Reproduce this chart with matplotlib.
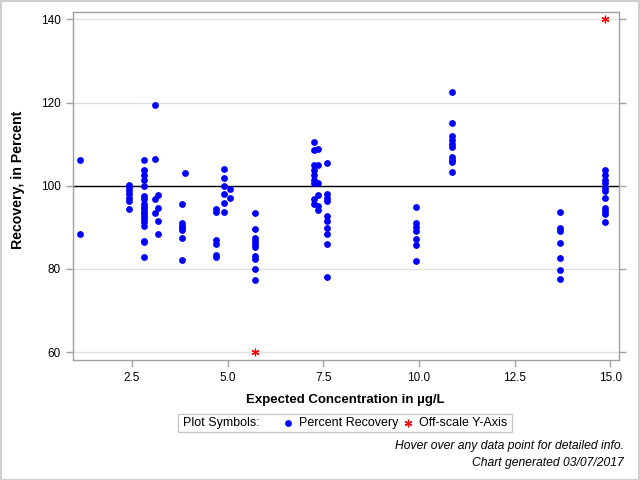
import matplotlib
matplotlib.use("Agg")
import matplotlib.pyplot as plt
from matplotlib.patches import Rectangle
from matplotlib.lines import Line2D

plt.rcParams['font.family'] = ['Liberation Sans', 'DejaVu Sans']

# Expected concentrations (µg/L) and the recoveries measured at each
concentrations = [1.15, 2.43, 2.80, 3.11, 3.19, 3.89, 3.80, 4.70, 4.91, 5.06,
                  5.72, 7.26, 7.37, 7.59, 9.91, 10.87, 13.67, 14.85]
recoveries = [
    [106.3, 88.5],
    [100.3, 99.5, 98.7, 97.9, 97.1, 96.3, 94.5],
    [106.3, 103.8, 102.7, 101.5, 99.9, 97.5, 96.7, 95.5, 94.9, 94.3, 93.6,
     93.1, 92.5, 91.9, 91.2, 90.3, 86.7, 86.4, 82.9],
    [119.3, 106.5, 96.7, 93.5],
    [97.8, 94.7, 91.6, 88.3],
    [103.0],
    [95.5, 91.1, 90.4, 89.9, 89.3, 87.5, 82.2],
    [94.5, 93.7, 86.9, 86.1, 83.3, 82.9],
    [104.1, 101.9, 99.9, 97.9, 95.9, 93.7],
    [99.1, 97.1],
    [93.5, 89.6, 87.5, 86.7, 85.9, 85.3, 83.2, 82.5, 80.1, 77.3],
    [110.6, 108.7, 105.1, 103.9, 102.7, 101.5, 100.6, 96.7, 95.5],
    [108.9, 104.9, 100.7, 97.7, 95.1, 94.1],
    [105.5, 98.1, 97.1, 96.3, 92.8, 91.5, 89.9, 88.5, 86.0, 78.1],
    [94.9, 91.1, 90.1, 89.1, 87.1, 85.7, 81.9],
    [122.6, 115.2, 112.0, 111.0, 110.0, 109.2, 107.0, 106.3, 105.7, 103.4],
    [93.7, 89.9, 89.1, 86.3, 82.7, 79.8, 77.6],
    [103.9, 102.5, 101.5, 100.6, 99.5, 98.7, 97.1, 94.7, 93.9, 93.1, 91.2],
]
offscale_x = [5.72, 14.85]
offscale_y = [60, 140]
x_ticks = [2.5, 5.0, 7.5, 10.0, 12.5, 15.0]
y_ticks = [60, 80, 100, 120, 140]

xs = [c for c, rs in zip(concentrations, recoveries) for _ in rs]
ys = [r for rs in recoveries for r in rs]

fig = plt.figure(figsize=(6.4, 4.8), dpi=100)
W, H = 640, 480
ax = fig.add_axes([72.5 / W, 1 - 360 / H, (618.5 - 72.5) / W, (360 - 11.5) / H])

ax.set_xlim(0.944, 15.21)
ax.set_ylim(58.1, 141.9)

for yt in y_ticks:
    ax.axhline(yt, color='#e1e1e1', lw=1, zorder=0)
ax.axhline(100, color='black', lw=1, zorder=1)

ax.plot(xs, ys, linestyle='none', marker='o', ms=4.9, color='#0000ff',
        markeredgewidth=0, zorder=3)
ax.plot(offscale_x, offscale_y, linestyle='none', marker=(6, 2, 0), ms=5.5,
        color='#ff0000', mew=0.9, zorder=3)

ax.set_xticks(x_ticks)
ax.set_xticklabels([f"{v:.1f}" for v in x_ticks])
ax.set_yticks(y_ticks)
ax.set_yticklabels([str(v) for v in y_ticks])
ax.tick_params(axis='both', colors='#a0a0a0', labelcolor='black', labelsize=8.5,
               length=5, width=1)
ax.tick_params(axis='y', right=True)
for s in ax.spines.values():
    s.set_color('#a0a0a0')
    s.set_linewidth(1)

ax.set_xlabel('Expected Concentration in µg/L', fontsize=9.5, fontweight='bold',
              labelpad=7)
ax.set_ylabel('Recovery, in Percent', fontsize=10.2, fontweight='bold')
ax.yaxis.set_label_coords((25 - 72.5) / (618.5 - 72.5), (360 - 180) / (360 - 11.5))

# Legend box
fig.add_artist(Rectangle((178.3 / W, 1 - 431.7 / H), (511.7 - 178.3) / W,
                         (431.7 - 414.3) / H, transform=fig.transFigure,
                         fill=False, edgecolor='#c8c8c8', lw=1))
ly = 1 - 423 / H
fig.text(183.3 / W, ly, 'Plot Symbols:', fontsize=9, va='center', ha='left')
fig.add_artist(Line2D([288.3 / W], [ly], transform=fig.transFigure,
                      marker='o', ms=4.9, color='#0000ff', mew=0, linestyle='none'))
fig.text(299.3 / W, ly, 'Percent Recovery', fontsize=9, va='center', ha='left')
fig.add_artist(Line2D([408.3 / W], [ly], transform=fig.transFigure,
                      marker=(6, 2, 0), ms=5.5, color='#ff0000', mew=0.9,
                      linestyle='none'))
fig.text(419.3 / W, ly, 'Off-scale Y-Axis', fontsize=9, va='center', ha='left')

fig.text(624 / W, 1 - 446 / H, 'Hover over any data point for detailed info.',
         fontsize=8.7, style='italic', ha='right', va='center')
fig.text(624 / W, 1 - 463 / H, 'Chart generated 03/07/2017',
         fontsize=8.7, style='italic', ha='right', va='center')

fig.add_artist(Rectangle((0.5 / W, 0.5 / H), (W - 1.5) / W, (H - 1.5) / H,
                         transform=fig.transFigure, fill=False,
                         edgecolor='#d0d0d0', lw=1.5))

fig.savefig('out.png', dpi=100)
